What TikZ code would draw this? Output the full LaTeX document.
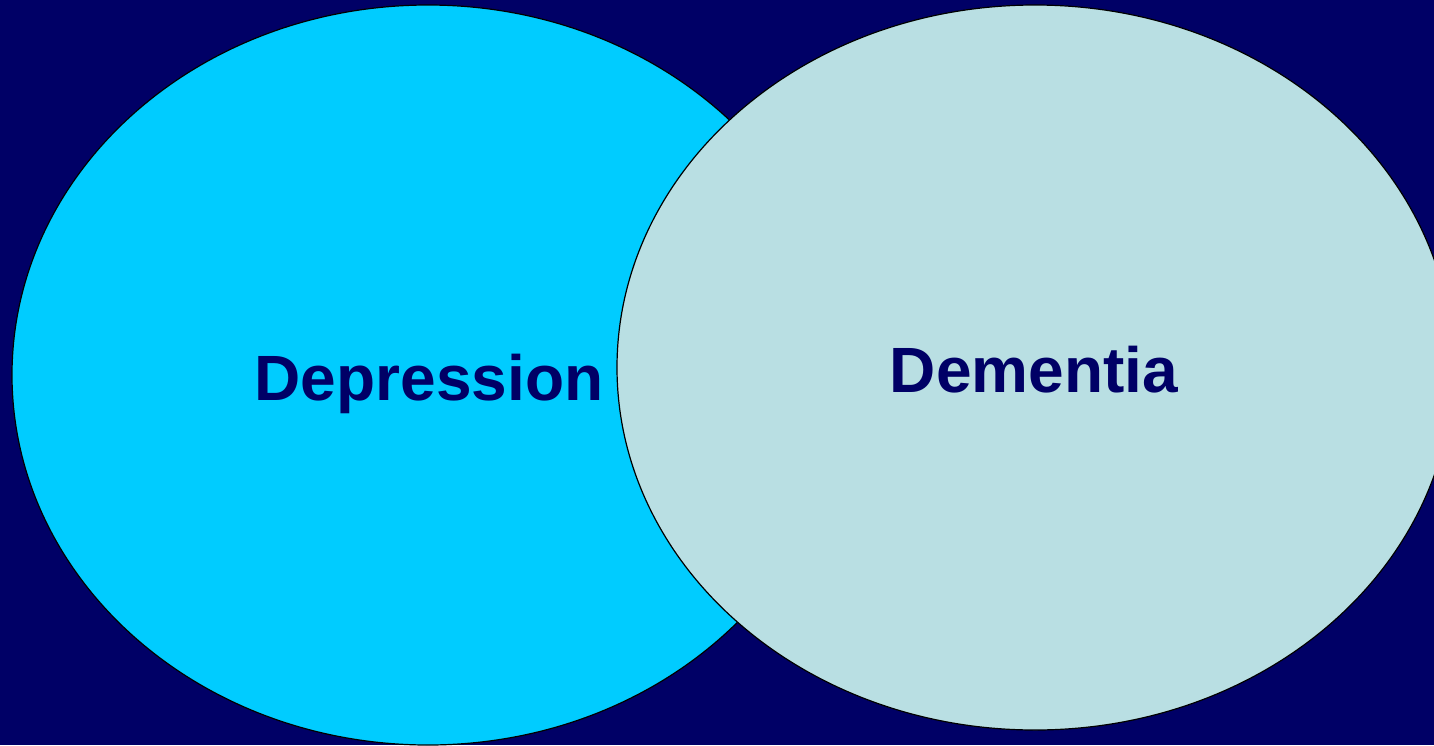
\documentclass[tikz,border=0pt]{standalone}
\usepackage{fontspec}
\setmainfont{Liberation Sans}
\definecolor{bgnavy}{RGB}{0,0,102}
\definecolor{depblue}{RGB}{0,204,255}
\definecolor{dempale}{RGB}{185,223,227}
\begin{document}
\begin{tikzpicture}[x=1pt,y=-1pt,
  circ/.style={draw=black,line width=1.2pt},
  lbl/.style={text=bgnavy,font=\bfseries\fontsize{64}{70}\selectfont,anchor=base,inner sep=0pt}]
\fill[bgnavy] (0,0) rectangle (1434,745);
\useasboundingbox (0,0) rectangle (1434,745);
\begin{scope}
\clip (0,0) rectangle (1434,745);
\draw[circ,fill=depblue] (428,375) ellipse [x radius=416, y radius=370];
\draw[circ,fill=dempale] (1035,367.5) ellipse [x radius=418, y radius=362.5];
\end{scope}
\node[lbl] (dep) at (429,400) {Depression};
\node[lbl] (dem) at (1034,392) {Dementia};
\end{tikzpicture}
\end{document}
